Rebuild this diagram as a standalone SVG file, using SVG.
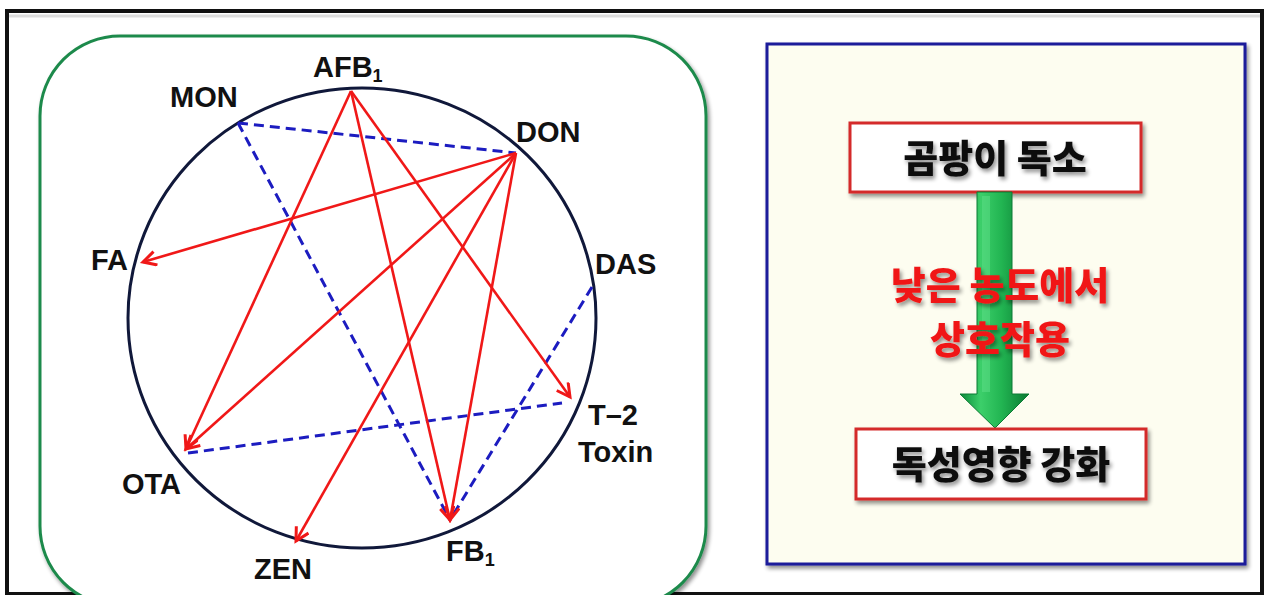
<svg xmlns="http://www.w3.org/2000/svg" width="1269" height="595" viewBox="0 0 1269 595">
<style>
.lbl{font-family:"Liberation Sans",Arial,sans-serif;font-weight:bold;font-size:29px;fill:#111}
.sub{font-family:"Liberation Sans",Arial,sans-serif;font-weight:bold;font-size:18px;fill:#111}
.red{stroke:#f01818;stroke-width:2.6;fill:none;marker-end:url(#ah)}
.blue{stroke:#1c1cc0;stroke-width:3;fill:none;stroke-dasharray:10 6}
.kr{font-family:"Noto Sans CJK KR","Noto Sans CJK SC",sans-serif;font-weight:900;font-size:38px;text-anchor:middle}
.box{fill:#fff;stroke:#d42a2a;stroke-width:3}
</style>
<defs>
<marker id="ah" markerUnits="userSpaceOnUse" markerWidth="20" markerHeight="20" refX="15" refY="8" orient="auto">
<path d="M2,1 L15,8 L2,15" fill="none" stroke="#f01818" stroke-width="3" stroke-linejoin="miter"/>
</marker>
<filter id="sh" x="-10%" y="-10%" width="130%" height="140%">
<feGaussianBlur in="SourceAlpha" stdDeviation="2"/>
<feOffset dx="2" dy="3" result="b"/>
<feComponentTransfer><feFuncA type="linear" slope="0.45"/></feComponentTransfer>
<feMerge><feMergeNode/><feMergeNode in="SourceGraphic"/></feMerge>
</filter>
<linearGradient id="gs" x1="0" x2="1" y1="0" y2="0">
<stop offset="0" stop-color="#0b8a3a"/>
<stop offset="0.3" stop-color="#3ccf6a"/>
<stop offset="0.6" stop-color="#22b552"/>
<stop offset="1" stop-color="#0a7a32"/>
</linearGradient>
</defs>
<rect width="1269" height="595" fill="#fff"/>
<g id="frame">
<rect x="7" y="11" width="1255" height="583" fill="none" stroke="#111" stroke-width="4"/>
<line x1="9" y1="16" x2="1260" y2="16" stroke="#ddd" stroke-width="3"/>
</g>
<g id="left-panel">
<rect x="40" y="36" width="666" height="570" rx="80" ry="80" fill="#fff" stroke="#1f8a4c" stroke-width="3" filter="url(#sh)"/>
<ellipse cx="362" cy="318" rx="234" ry="230" fill="#fff" stroke="#10183a" stroke-width="3"/>
</g>
<g id="connectors">
<line class="blue" x1="238" y1="123" x2="516" y2="153"/>
<line class="blue" x1="238" y1="123" x2="450" y2="520"/>
<line class="blue" x1="592" y1="287" x2="450" y2="520"/>
<line class="blue" x1="188" y1="453" x2="562" y2="403"/>
<line class="red" x1="351" y1="91" x2="186" y2="449"/>
<line class="red" x1="351" y1="91" x2="450" y2="520"/>
<line class="red" x1="351" y1="91" x2="570" y2="397"/>
<line class="red" x1="516" y1="153" x2="143" y2="262"/>
<line class="red" x1="516" y1="153" x2="186" y2="449"/>
<line class="red" x1="516" y1="153" x2="296" y2="541"/>
<line class="red" x1="516" y1="153" x2="450" y2="520"/>
</g>
<g id="node-AFB1"><text class="lbl" x="313" y="77">AFB<tspan class="sub" dy="5">1</tspan></text></g>
<g id="node-MON"><text class="lbl" x="170" y="107">MON</text></g>
<g id="node-DON"><text class="lbl" x="516" y="142">DON</text></g>
<g id="node-FA"><text class="lbl" x="91" y="270">FA</text></g>
<g id="node-DAS"><text class="lbl" x="595" y="274">DAS</text></g>
<g id="node-T2"><text class="lbl" x="588" y="425">T–2</text><text class="lbl" x="578" y="462">Toxin</text></g>
<g id="node-OTA"><text class="lbl" x="122" y="494">OTA</text></g>
<g id="node-ZEN"><text class="lbl" x="254" y="579">ZEN</text></g>
<g id="node-FB1"><text class="lbl" x="446" y="561">FB<tspan class="sub" dy="5">1</tspan></text></g>
<g id="right-panel">
<rect x="767" y="44" width="478" height="520" fill="#fdfdf0" stroke="#1a1a9a" stroke-width="3" filter="url(#sh)"/>
</g>
<g id="node-mycotoxin">
<rect class="box" x="850" y="123" width="291" height="69" filter="url(#sh)"/>
<text class="kr" x="995" y="172" fill="#111" filter="url(#sh)">곰팡이 독소</text>
</g>
<g id="arrow">
<path d="M977,192 L1012,192 L1012,394 L1029,394 L995,428 L960,394 L977,394 Z" fill="url(#gs)" stroke="#0b7a34" stroke-width="1"/>
<rect x="982" y="196" width="8" height="196" fill="#5fe08a" opacity="0.5"/>
</g>
<g id="arrow-text">
<text class="kr" x="1000" y="299" fill="#f01818" font-size="37" filter="url(#sh)">낮은 농도에서</text>
<text class="kr" x="1000" y="353" fill="#f01818" font-size="37" filter="url(#sh)">상호작용</text>
</g>
<g id="node-toxicity">
<rect class="box" x="856" y="429" width="290" height="70" filter="url(#sh)"/>
<text class="kr" x="1001" y="478" fill="#111" filter="url(#sh)">독성영향 강화</text>
</g>
</svg>
